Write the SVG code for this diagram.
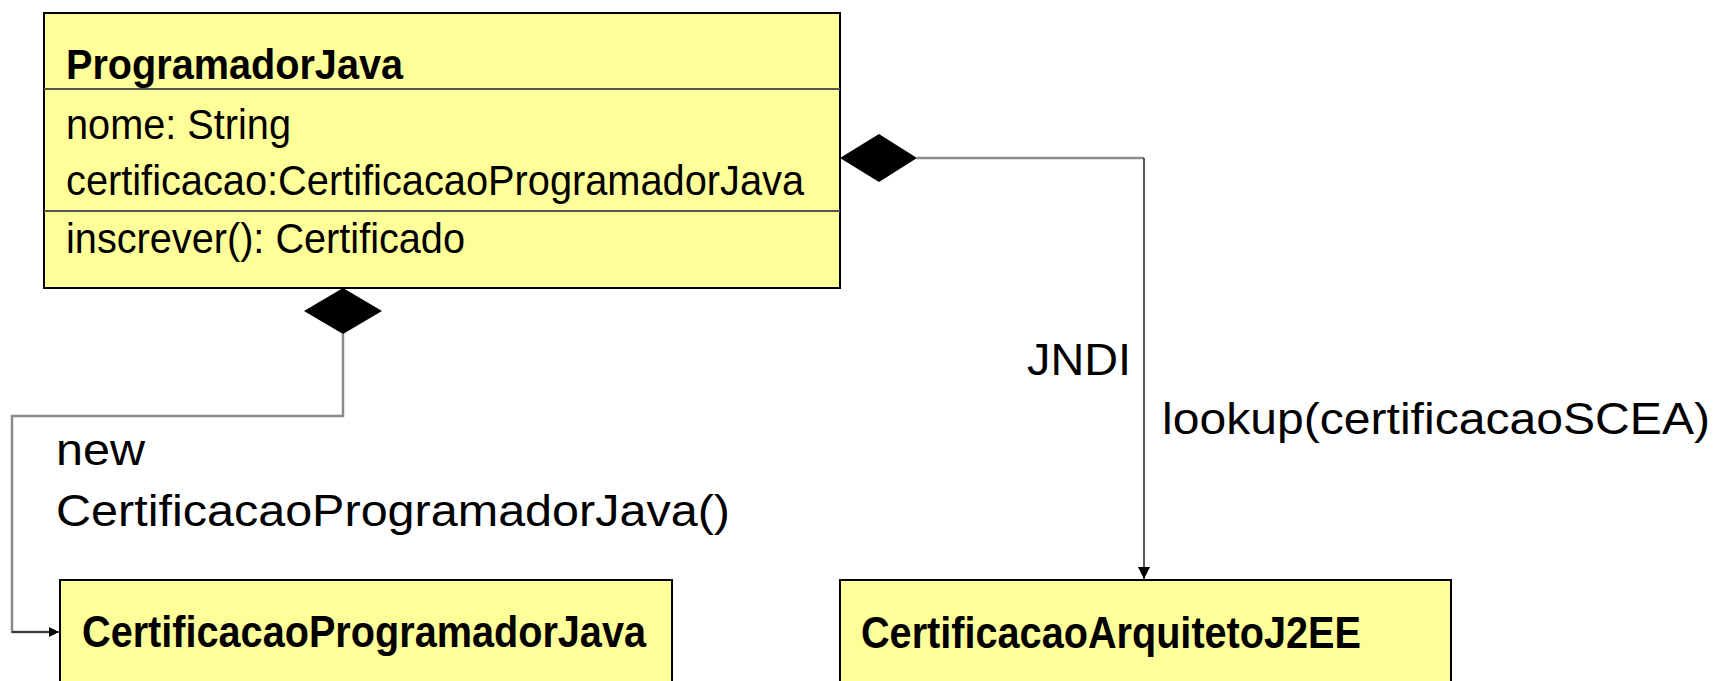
<svg xmlns="http://www.w3.org/2000/svg" width="1718" height="681" viewBox="0 0 1718 681">
<defs>
<style>
.box{fill:#FFFF99;stroke:#000;stroke-width:2}
.sep{stroke:#555;stroke-width:2}
.t{font-family:"Liberation Sans",Arial,sans-serif;font-size:43px;fill:#000}
.b{font-weight:bold}
.lbl{font-family:"Liberation Sans",Arial,sans-serif;font-size:45px;fill:#000}
.gray{fill:none;stroke:#8a8a8a;stroke-width:2.5}
.dark{fill:none;stroke:#222;stroke-width:1.5}
</style>
<marker id="arr" viewBox="0 0 10 10" refX="10" refY="5" markerWidth="10" markerHeight="10" markerUnits="userSpaceOnUse" orient="auto">
<path d="M0,0 L10,5 L0,10 Z" fill="#000"/>
</marker>
<marker id="arr2" viewBox="0 0 10 10" refX="10" refY="5" markerWidth="14" markerHeight="12" markerUnits="userSpaceOnUse" orient="auto">
<path d="M0,0 L10,5 L0,10 Z" fill="#000"/>
</marker>
</defs>
<rect width="1718" height="681" fill="#fff"/>
<g id="connectors">
<polyline class="gray" points="343,334 343,416 12,416 12,632 50,632"/>
<line x1="12" y1="632" x2="59" y2="632" class="dark" marker-end="url(#arr)"/>
<polyline class="gray" points="917,158 1144,158"/>
<line x1="1144" y1="158" x2="1144" y2="579" class="dark" marker-end="url(#arr2)"/>
<text class="lbl" x="56" y="465" textLength="89" lengthAdjust="spacingAndGlyphs">new</text>
<text class="lbl" x="56" y="526" textLength="674" lengthAdjust="spacingAndGlyphs">CertificacaoProgramadorJava()</text>
<text class="lbl" x="1027" y="375" textLength="104" lengthAdjust="spacingAndGlyphs">JNDI</text>
<text class="lbl" x="1162" y="434" textLength="548" lengthAdjust="spacingAndGlyphs">lookup(certificacaoSCEA)</text>
</g>
<g id="ProgramadorJava">
<rect class="box" x="44" y="13" width="796" height="275"/>
<line class="sep" x1="44" y1="89" x2="840" y2="89"/>
<line class="sep" x1="44" y1="211" x2="840" y2="211"/>
<text class="t b" x="66" y="79" textLength="337" lengthAdjust="spacingAndGlyphs">ProgramadorJava</text>
<text class="t" x="66" y="139" textLength="225" lengthAdjust="spacingAndGlyphs">nome: String</text>
<text class="t" x="66" y="195" textLength="738" lengthAdjust="spacingAndGlyphs">certificacao:CertificacaoProgramadorJava</text>
<text class="t" x="66" y="253" textLength="399" lengthAdjust="spacingAndGlyphs">inscrever(): Certificado</text>
<polygon points="343,288 382,311 343,334 304,311" fill="#000"/>
<polygon points="840,158 879,134 917,158 879,182" fill="#000"/>
</g>
<g id="CertificacaoProgramadorJava">
<rect class="box" x="60" y="580" width="612" height="110"/>
<text class="lbl b" x="82" y="647" textLength="564" lengthAdjust="spacingAndGlyphs">CertificacaoProgramadorJava</text>
</g>
<g id="CertificacaoArquitetoJ2EE">
<rect class="box" x="840" y="580" width="611" height="110"/>
<text class="lbl b" x="861" y="648" textLength="500" lengthAdjust="spacingAndGlyphs">CertificacaoArquitetoJ2EE</text>
</g>
</svg>
